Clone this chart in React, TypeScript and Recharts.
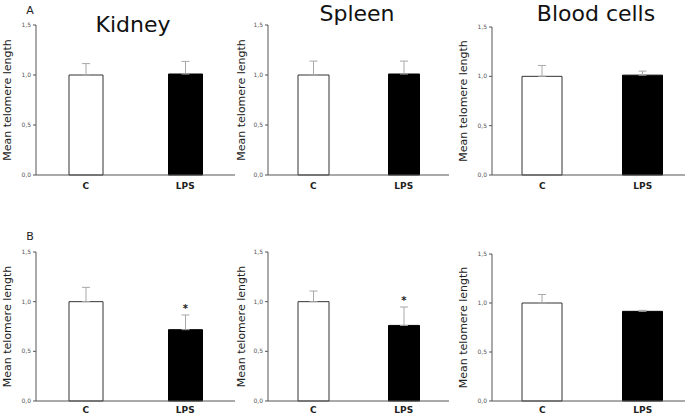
import React from 'react';
import { BarChart, Bar, XAxis, YAxis, ErrorBar, Cell, ReferenceDot } from 'recharts';

const categories = ['C', 'LPS'];
const yTicks = [0, 0.5, 1.0, 1.5];

const kidneyAMean = [1.0, 1.01];
const kidneyAErr = [0.114, 0.126];
const spleenAMean = [1.0, 1.01];
const spleenAErr = [0.139, 0.129];
const bloodAMean = [1.0, 1.012];
const bloodAErr = [0.11, 0.041];

const kidneyBMean = [1.0, 0.718];
const kidneyBErr = [0.144, 0.148];
const spleenBMean = [1.0, 0.761];
const spleenBErr = [0.107, 0.185];
const bloodBMean = [1.0, 0.915];
const bloodBErr = [0.087, 0.01];

const kidneyBSig = ['', '*'];
const spleenBSig = ['', '*'];
const noSig = ['', ''];

const barFills = ['#ffffff', '#000000'];
const barStrokes = ['#333333', '#000000'];

const FONT = 'DejaVu Sans, Verdana, sans-serif';

type PanelProps = {
  left: number;
  top: number;
  width: number;
  height: number;
  marginTop: number;
  xAxisHeight: number;
  xTickMargin: number;
  barSize: number;
  labelX: number;
  means: number[];
  errs: number[];
  sig: string[];
};

function Panel(p: PanelProps) {
  const data = categories.map((c, i) => ({ name: c, mean: p.means[i], err: [0, p.errs[i]] }));
  const yLabel = (props: any) => {
    const vb = props.viewBox || {};
    const tx = (vb.x || 0) + p.labelX;
    const ty = (vb.y || 0) + (vb.height || 0) / 2;
    return (
      <text
        x={tx}
        y={ty}
        transform={`rotate(-90, ${tx}, ${ty})`}
        textAnchor="middle"
        dominantBaseline="central"
        fontFamily={FONT}
        fontSize={11}
        fill="#222"
      >
        Mean telomere length
      </text>
    );
  };
  return (
    <div style={{ position: 'absolute', left: p.left, top: p.top }}>
      <BarChart
        width={p.width}
        height={p.height}
        data={data}
        margin={{ top: p.marginTop, right: 5, bottom: 0, left: 0 }}
      >
        <XAxis
          dataKey="name"
          height={p.xAxisHeight}
          tickLine={false}
          tickSize={0}
          tickMargin={p.xTickMargin}
          axisLine={{ stroke: '#555', strokeWidth: 1 }}
          tick={{ fontFamily: FONT, fontSize: 9, fontWeight: 'bold', fill: '#222' }}
        />
        <YAxis
          width={36}
          domain={[0, 1.5]}
          ticks={yTicks}
          interval={0}
          tickSize={3}
          tickMargin={2}
          axisLine={{ stroke: '#555', strokeWidth: 1 }}
          tickLine={{ stroke: '#555', strokeWidth: 1 }}
          tickFormatter={(v: number) => v.toFixed(1).replace('.', ',')}
          tick={{ fontFamily: FONT, fontSize: 6, fill: '#555' }}
          label={{ content: yLabel }}
        />
        <Bar dataKey="mean" barSize={p.barSize} isAnimationActive={false}>
          {data.map((d, i) => (
            <Cell key={d.name} fill={barFills[i]} stroke={barStrokes[i]} strokeWidth={1} />
          ))}
          <ErrorBar dataKey="err" width={4} stroke="#a8a8a8" strokeWidth={1} direction="y" isAnimationActive={false} />
        </Bar>
        {categories.map((c, i) =>
          p.sig[i] ? (
            <ReferenceDot
              key={c}
              x={c}
              y={p.means[i] + p.errs[i]}
              r={0}
              fill="none"
              stroke="none"
              label={{ value: p.sig[i], position: 'top', offset: 3, fontFamily: FONT, fontSize: 10, fontWeight: 'bold', fill: '#222' }}
            />
          ) : null
        )}
      </BarChart>
    </div>
  );
}

export default function App() {
  return (
    <div
      style={{
        position: 'absolute',
        left: 0,
        top: 0,
        width: 685,
        height: 416,
        overflow: 'hidden',
        background: '#fff',
      }}
    >
      <Panel left={0} top={0} width={240} height={200} marginTop={25} xAxisHeight={25} xTickMargin={8} barSize={34} labelX={7} means={kidneyAMean} errs={kidneyAErr} sig={noSig} />
      <Panel left={232} top={0} width={222} height={200} marginTop={25} xAxisHeight={25} xTickMargin={8} barSize={31} labelX={9.7} means={spleenAMean} errs={spleenAErr} sig={noSig} />
      <Panel left={456} top={0} width={242} height={200} marginTop={27} xAxisHeight={25} xTickMargin={8} barSize={40} labelX={7.3} means={bloodAMean} errs={bloodAErr} sig={noSig} />
      <Panel left={0} top={200} width={240} height={216} marginTop={52} xAxisHeight={15} xTickMargin={6} barSize={34} labelX={7} means={kidneyBMean} errs={kidneyBErr} sig={kidneyBSig} />
      <Panel left={232} top={200} width={222} height={216} marginTop={52} xAxisHeight={15} xTickMargin={6} barSize={31} labelX={9.7} means={spleenBMean} errs={spleenBErr} sig={spleenBSig} />
      <Panel left={456} top={200} width={242} height={216} marginTop={54} xAxisHeight={15} xTickMargin={6} barSize={40} labelX={7.3} means={bloodBMean} errs={bloodBErr} sig={noSig} />
      <svg width={685} height={416} style={{ position: 'absolute', left: 0, top: 0, pointerEvents: 'none' }}>
        <text x={133} y={32} textAnchor="middle" fontFamily={FONT} fontSize={22} fill="#111">Kidney</text>
        <text x={357} y={21} textAnchor="middle" fontFamily={FONT} fontSize={22} fill="#111">Spleen</text>
        <text x={596} y={21} textAnchor="middle" fontFamily={FONT} fontSize={22} fill="#111">Blood cells</text>
        <text x={30} y={14} textAnchor="middle" fontFamily={FONT} fontSize={11} fill="#222">A</text>
        <text x={30} y={240} textAnchor="middle" fontFamily={FONT} fontSize={11} fill="#222">B</text>
      </svg>
    </div>
  );
}
